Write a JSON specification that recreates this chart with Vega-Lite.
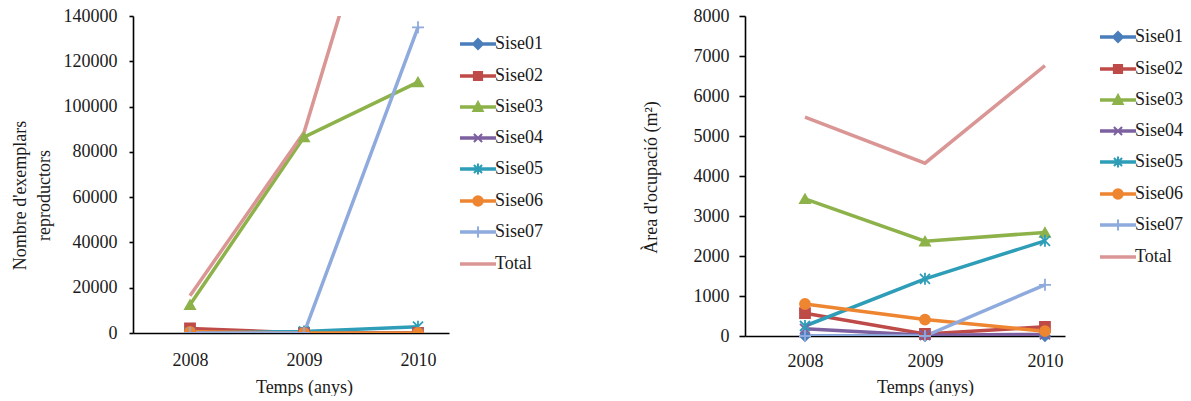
{
  "$schema": "https://vega.github.io/schema/vega-lite/v6.json",
  "background": "white",
  "padding": {"left": 11, "top": 7, "right": 0, "bottom": 0},
  "datasets": {
    "nombre": [
      {"serie": "Sise01", "any": 2008, "valor": 0},
      {"serie": "Sise01", "any": 2009, "valor": 0},
      {"serie": "Sise01", "any": 2010, "valor": 0},
      {"serie": "Sise02", "any": 2008, "valor": 2000},
      {"serie": "Sise02", "any": 2009, "valor": 0},
      {"serie": "Sise02", "any": 2010, "valor": 0},
      {"serie": "Sise03", "any": 2008, "valor": 12500},
      {"serie": "Sise03", "any": 2009, "valor": 86500},
      {"serie": "Sise03", "any": 2010, "valor": 110800},
      {"serie": "Sise04", "any": 2008, "valor": 0},
      {"serie": "Sise04", "any": 2009, "valor": 0},
      {"serie": "Sise04", "any": 2010, "valor": 0},
      {"serie": "Sise05", "any": 2008, "valor": 0},
      {"serie": "Sise05", "any": 2009, "valor": 700},
      {"serie": "Sise05", "any": 2010, "valor": 2800},
      {"serie": "Sise06", "any": 2008, "valor": 500},
      {"serie": "Sise06", "any": 2009, "valor": 0},
      {"serie": "Sise06", "any": 2010, "valor": 0},
      {"serie": "Sise07", "any": 2008, "valor": 0},
      {"serie": "Sise07", "any": 2009, "valor": 0},
      {"serie": "Sise07", "any": 2010, "valor": 135000},
      {"serie": "Total", "any": 2008, "valor": 16500},
      {"serie": "Total", "any": 2009, "valor": 88500},
      {"serie": "Total", "any": 2010, "valor": 255000}
    ],
    "area": [
      {"serie": "Sise01", "any": 2008, "valor": 0},
      {"serie": "Sise01", "any": 2009, "valor": 0},
      {"serie": "Sise01", "any": 2010, "valor": 0},
      {"serie": "Sise02", "any": 2008, "valor": 570},
      {"serie": "Sise02", "any": 2009, "valor": 50},
      {"serie": "Sise02", "any": 2010, "valor": 230},
      {"serie": "Sise03", "any": 2008, "valor": 3430},
      {"serie": "Sise03", "any": 2009, "valor": 2370},
      {"serie": "Sise03", "any": 2010, "valor": 2590},
      {"serie": "Sise04", "any": 2008, "valor": 180},
      {"serie": "Sise04", "any": 2009, "valor": 20},
      {"serie": "Sise04", "any": 2010, "valor": 40},
      {"serie": "Sise05", "any": 2008, "valor": 250},
      {"serie": "Sise05", "any": 2009, "valor": 1430},
      {"serie": "Sise05", "any": 2010, "valor": 2380},
      {"serie": "Sise06", "any": 2008, "valor": 800},
      {"serie": "Sise06", "any": 2009, "valor": 410},
      {"serie": "Sise06", "any": 2010, "valor": 120},
      {"serie": "Sise07", "any": 2008, "valor": 0},
      {"serie": "Sise07", "any": 2009, "valor": 0},
      {"serie": "Sise07", "any": 2010, "valor": 1280},
      {"serie": "Total", "any": 2008, "valor": 5470},
      {"serie": "Total", "any": 2009, "valor": 4320},
      {"serie": "Total", "any": 2010, "valor": 6760}
    ]
  },
  "bounds": "flush",
  "spacing": 296,
  "hconcat": [
    {
      "width": 316,
      "height": 317,
      "data": {"name": "nombre"},
      "encoding": {
        "x": {
          "field": "any", "type": "quantitative",
          "scale": {"domain": [2007.5, 2010.272], "nice": false, "zero": false},
          "axis": {
            "values": [2008, 2009, 2010], "format": "d", "ticks": false, "tickSize": 0,
            "labelPadding": 32, "labelBaseline": "alphabetic", "labelFlush": false,
            "title": "Temps (anys)", "titleX": 171, "titleY": 59, "titleBaseline": "alphabetic"
          }
        },
        "y": {
          "field": "valor", "type": "quantitative",
          "scale": {"domain": [0, 140000], "nice": false},
          "axis": {
            "values": [0, 20000, 40000, 60000, 80000, 100000, 120000, 140000],
            "format": "d", "tickSize": 4, "labelPadding": 12,
            "title": ["Nombre d'exemplars", "reproductors"],
            "titleX": -113, "titleY": 179, "titleAngle": -90,
            "titleBaseline": "middle", "titleAlign": "center", "titleLineHeight": 24
          }
        }
      },
      "layer": [
        {
          "mark": {"type": "line", "strokeWidth": 3.5, "clip": true},
          "encoding": {
            "color": {
              "field": "serie", "type": "nominal", "legend": null,
              "scale": {
                "domain": ["Sise01", "Sise02", "Sise03", "Sise04", "Sise05", "Sise06", "Sise07", "Total"],
                "range": ["#4A7EBB", "#BE4B48", "#8DB24A", "#7D60A0", "#2E9DB8", "#EE8530", "#8FAADC", "#DA9694"]
              }
            }
          }
        },
        {
          "transform": [{"filter": "datum.serie !== 'Total'"}],
          "mark": {"type": "point", "filled": true, "opacity": 1, "size": 100, "strokeWidth": 1.8, "clip": true},
          "encoding": {
            "color": {
              "field": "serie", "type": "nominal", "legend": null,
              "scale": {
                "domain": ["Sise01", "Sise02", "Sise03", "Sise04", "Sise05", "Sise06", "Sise07"],
                "range": ["#4A7EBB", "#BE4B48", "#8DB24A", "#7D60A0", "#2E9DB8", "#EE8530", "#8FAADC"]
              }
            },
            "stroke": {
              "field": "serie", "type": "nominal", "legend": null,
              "scale": {
                "domain": ["Sise01", "Sise02", "Sise03", "Sise04", "Sise05", "Sise06", "Sise07"],
                "range": ["#4A7EBB", "#BE4B48", "#8DB24A", "#7D60A0", "#2E9DB8", "#EE8530", "#8FAADC"]
              }
            },
            "shape": {
              "field": "serie", "type": "nominal", "legend": null,
              "scale": {
                "domain": ["Sise01", "Sise02", "Sise03", "Sise04", "Sise05", "Sise06", "Sise07"],
                "range": [
                  "diamond", "square", "triangle-up",
                  "M-1,-1L1,1M1,-1L-1,1",
                  "M-1,-1L1,1M1,-1L-1,1M0,-1.2V1.2",
                  "circle",
                  "M0,-1.2V1.2M-1.2,0H1.2"
                ]
              }
            }
          }
        },
        {
          "transform": [{"filter": "datum.valor < 0"}],
          "mark": {"type": "point", "filled": true, "opacity": 1, "strokeWidth": 2},
          "encoding": {
            "color": {
              "field": "serie", "type": "nominal",
              "scale": {
                "domain": ["Sise01", "Sise02", "Sise03", "Sise04", "Sise05", "Sise06", "Sise07", "Total"],
                "range": ["#4A7EBB", "#BE4B48", "#8DB24A", "#7D60A0", "#2E9DB8", "#EE8530", "#8FAADC", "#DA9694"]
              },
              "legend": {"orient": "none", "legendX": 327, "legendY": 10, "title": null, "symbolSize": 1156, "symbolStrokeWidth": 2, "labelOffset": -1, "rowPadding": 4, "padding": 0, "symbolOpacity": 1}
            },
            "stroke": {
              "field": "serie", "type": "nominal",
              "scale": {
                "domain": ["Sise01", "Sise02", "Sise03", "Sise04", "Sise05", "Sise06", "Sise07", "Total"],
                "range": ["#4A7EBB", "#BE4B48", "#8DB24A", "#7D60A0", "#2E9DB8", "#EE8530", "#8FAADC", "#DA9694"]
              },
              "legend": {"orient": "none", "legendX": 327, "legendY": 10, "title": null, "symbolSize": 1156, "symbolStrokeWidth": 2, "labelOffset": -1, "rowPadding": 4, "padding": 0, "symbolOpacity": 1}
            },
            "shape": {
              "field": "serie", "type": "nominal",
              "scale": {
                "domain": ["Sise01", "Sise02", "Sise03", "Sise04", "Sise05", "Sise06", "Sise07", "Total"],
                "range": [
                  "M-1,-0.045H1V0.045H-1ZM0,-0.3L0.3,0L0,0.3L-0.3,0Z",
                  "M-1,-0.045H1V0.045H-1ZM-0.24,-0.24H0.24V0.24H-0.24Z",
                  "M-1,-0.045H1V0.045H-1ZM0,-0.3L0.28,0.24H-0.28Z",
                  "M-1,-0.045H1V0.045H-1ZM-0.24,-0.24L0.24,0.24M0.24,-0.24L-0.24,0.24",
                  "M-1,-0.045H1V0.045H-1ZM-0.24,-0.24L0.24,0.24M0.24,-0.24L-0.24,0.24M0,-0.32V0.32",
                  "M-1,-0.045H1V0.045H-1ZM0.28,0A0.28,0.28 0 1,1 -0.28,0A0.28,0.28 0 1,1 0.28,0Z",
                  "M-1,-0.045H1V0.045H-1ZM0,-0.32V0.32",
                  "M-1,-0.045H1V0.045H-1Z"
                ]
              },
              "legend": {"orient": "none", "legendX": 327, "legendY": 10, "title": null, "symbolSize": 1156, "symbolStrokeWidth": 2, "labelOffset": -1, "rowPadding": 4, "padding": 0, "symbolOpacity": 1}
            }
          }
        }
      ],
      "resolve": {
        "scale": {"color": "independent", "stroke": "independent", "shape": "independent"},
        "legend": {"color": "independent", "stroke": "independent", "shape": "independent"}
      }
    },
    {
      "width": 320,
      "height": 320,
      "data": {"name": "area"},
      "encoding": {
        "x": {
          "field": "any", "type": "quantitative",
          "scale": {"domain": [2007.5, 2010.167], "nice": false, "zero": false},
          "axis": {
            "values": [2008, 2009, 2010], "format": "d", "ticks": false, "tickSize": 0,
            "labelPadding": 30, "labelBaseline": "alphabetic", "labelFlush": false,
            "title": "Temps (anys)", "titleX": 180, "titleY": 56, "titleBaseline": "alphabetic"
          }
        },
        "y": {
          "field": "valor", "type": "quantitative",
          "scale": {"domain": [0, 8000], "nice": false},
          "axis": {
            "values": [0, 1000, 2000, 3000, 4000, 5000, 6000, 7000, 8000],
            "format": "d", "tickSize": 6, "labelPadding": 10,
            "title": "Àrea d'ocupació (m²)",
            "titleX": -94, "titleY": 161, "titleAngle": -90,
            "titleBaseline": "middle", "titleAlign": "center"
          }
        }
      },
      "layer": [
        {
          "mark": {"type": "line", "strokeWidth": 3.5, "clip": true},
          "encoding": {
            "color": {
              "field": "serie", "type": "nominal", "legend": null,
              "scale": {
                "domain": ["Sise01", "Sise02", "Sise03", "Sise04", "Sise05", "Sise06", "Sise07", "Total"],
                "range": ["#4A7EBB", "#BE4B48", "#8DB24A", "#7D60A0", "#2E9DB8", "#EE8530", "#8FAADC", "#DA9694"]
              }
            }
          }
        },
        {
          "transform": [{"filter": "datum.serie !== 'Total'"}],
          "mark": {"type": "point", "filled": true, "opacity": 1, "size": 100, "strokeWidth": 1.8},
          "encoding": {
            "color": {
              "field": "serie", "type": "nominal", "legend": null,
              "scale": {
                "domain": ["Sise01", "Sise02", "Sise03", "Sise04", "Sise05", "Sise06", "Sise07"],
                "range": ["#4A7EBB", "#BE4B48", "#8DB24A", "#7D60A0", "#2E9DB8", "#EE8530", "#8FAADC"]
              }
            },
            "stroke": {
              "field": "serie", "type": "nominal", "legend": null,
              "scale": {
                "domain": ["Sise01", "Sise02", "Sise03", "Sise04", "Sise05", "Sise06", "Sise07"],
                "range": ["#4A7EBB", "#BE4B48", "#8DB24A", "#7D60A0", "#2E9DB8", "#EE8530", "#8FAADC"]
              }
            },
            "shape": {
              "field": "serie", "type": "nominal", "legend": null,
              "scale": {
                "domain": ["Sise01", "Sise02", "Sise03", "Sise04", "Sise05", "Sise06", "Sise07"],
                "range": [
                  "diamond", "square", "triangle-up",
                  "M-1,-1L1,1M1,-1L-1,1",
                  "M-1,-1L1,1M1,-1L-1,1M0,-1.2V1.2",
                  "circle",
                  "M0,-1.2V1.2M-1.2,0H1.2"
                ]
              }
            }
          }
        },
        {
          "transform": [{"filter": "datum.valor < 0"}],
          "mark": {"type": "point", "filled": true, "opacity": 1, "strokeWidth": 2},
          "encoding": {
            "color": {
              "field": "serie", "type": "nominal",
              "scale": {
                "domain": ["Sise01", "Sise02", "Sise03", "Sise04", "Sise05", "Sise06", "Sise07", "Total"],
                "range": ["#4A7EBB", "#BE4B48", "#8DB24A", "#7D60A0", "#2E9DB8", "#EE8530", "#8FAADC", "#DA9694"]
              },
              "legend": {"orient": "none", "legendX": 355, "legendY": 3, "title": null, "symbolSize": 1156, "symbolStrokeWidth": 2, "labelOffset": -1, "rowPadding": 4, "padding": 0, "symbolOpacity": 1}
            },
            "stroke": {
              "field": "serie", "type": "nominal",
              "scale": {
                "domain": ["Sise01", "Sise02", "Sise03", "Sise04", "Sise05", "Sise06", "Sise07", "Total"],
                "range": ["#4A7EBB", "#BE4B48", "#8DB24A", "#7D60A0", "#2E9DB8", "#EE8530", "#8FAADC", "#DA9694"]
              },
              "legend": {"orient": "none", "legendX": 355, "legendY": 3, "title": null, "symbolSize": 1156, "symbolStrokeWidth": 2, "labelOffset": -1, "rowPadding": 4, "padding": 0, "symbolOpacity": 1}
            },
            "shape": {
              "field": "serie", "type": "nominal",
              "scale": {
                "domain": ["Sise01", "Sise02", "Sise03", "Sise04", "Sise05", "Sise06", "Sise07", "Total"],
                "range": [
                  "M-1,-0.045H1V0.045H-1ZM0,-0.3L0.3,0L0,0.3L-0.3,0Z",
                  "M-1,-0.045H1V0.045H-1ZM-0.24,-0.24H0.24V0.24H-0.24Z",
                  "M-1,-0.045H1V0.045H-1ZM0,-0.3L0.28,0.24H-0.28Z",
                  "M-1,-0.045H1V0.045H-1ZM-0.24,-0.24L0.24,0.24M0.24,-0.24L-0.24,0.24",
                  "M-1,-0.045H1V0.045H-1ZM-0.24,-0.24L0.24,0.24M0.24,-0.24L-0.24,0.24M0,-0.32V0.32",
                  "M-1,-0.045H1V0.045H-1ZM0.28,0A0.28,0.28 0 1,1 -0.28,0A0.28,0.28 0 1,1 0.28,0Z",
                  "M-1,-0.045H1V0.045H-1ZM0,-0.32V0.32",
                  "M-1,-0.045H1V0.045H-1Z"
                ]
              },
              "legend": {"orient": "none", "legendX": 355, "legendY": 3, "title": null, "symbolSize": 1156, "symbolStrokeWidth": 2, "labelOffset": -1, "rowPadding": 4, "padding": 0, "symbolOpacity": 1}
            }
          }
        }
      ],
      "resolve": {
        "scale": {"color": "independent", "stroke": "independent", "shape": "independent"},
        "legend": {"color": "independent", "stroke": "independent", "shape": "independent"}
      }
    }
  ],
  "resolve": {
    "scale": {"x": "independent", "y": "independent", "color": "independent", "stroke": "independent", "shape": "independent"},
    "legend": {"color": "independent", "stroke": "independent", "shape": "independent"}
  },
  "config": {
    "view": {"stroke": null},
    "font": "Liberation Serif",
    "axis": {
      "grid": false,
      "labelFont": "Liberation Serif", "labelFontSize": 18, "labelColor": "#1a1a1a",
      "titleFont": "Liberation Serif", "titleFontSize": 18, "titleFontWeight": "normal", "titleColor": "#1a1a1a",
      "domainColor": "#000000", "domainWidth": 1.6, "tickColor": "#000000", "tickWidth": 1.6,
      "labelOverlap": false
    },
    "legend": {
      "labelFont": "Liberation Serif", "labelFontSize": 18, "labelColor": "#1a1a1a", "labelLimit": 0
    }
  }
}
